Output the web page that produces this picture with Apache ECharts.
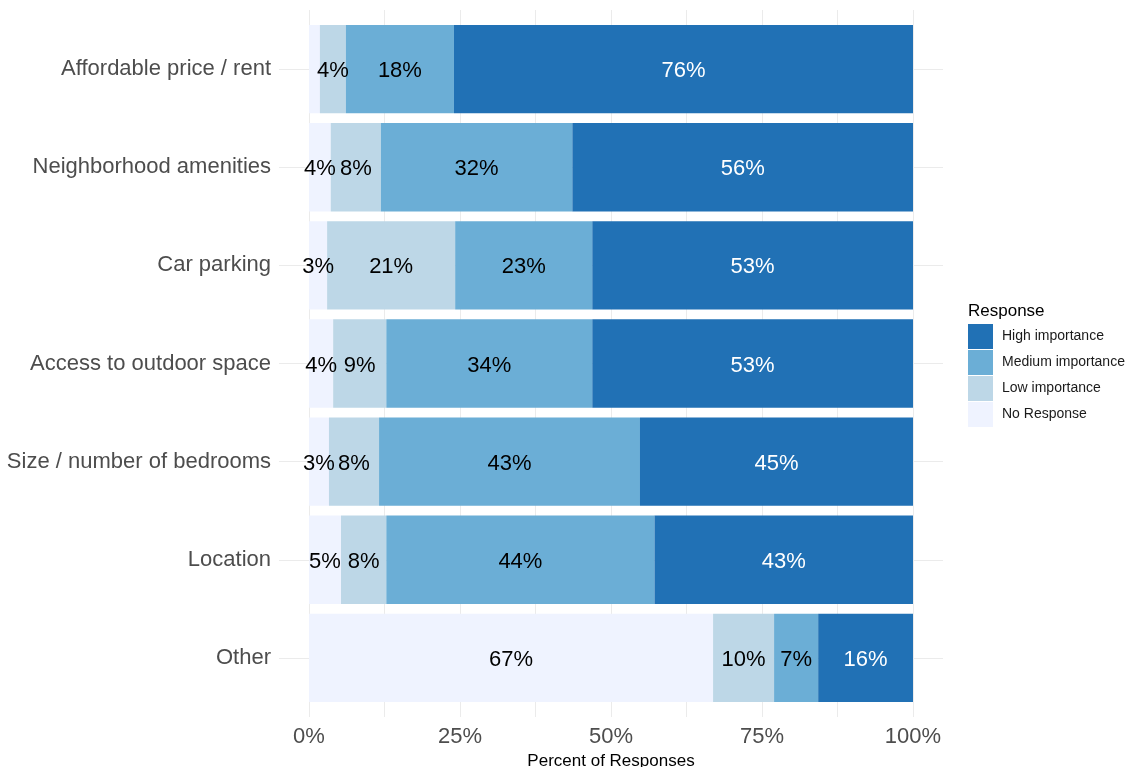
<!DOCTYPE html>
<html>
<head>
<meta charset="utf-8">
<script src="https://cdn.jsdelivr.net/npm/echarts@6/dist/echarts.min.js"></script>
<style>
  html, body { margin: 0; padding: 0; background: #fff; }
  #chart { width: 1129px; height: 767px; }
</style>
</head>
<body>
<div id="chart"></div>
<script>
// categories, top to bottom
const categories = ['Affordable price / rent', 'Neighborhood amenities', 'Car parking',
  'Access to outdoor space', 'Size / number of bedrooms', 'Location', 'Other']
// percent of responses per level
const noResponse = [1.8, 3.6, 3.0, 4.0, 3.3, 5.3, 66.9]
const lowImportance = [4.3, 8.3, 21.2, 8.8, 8.3, 7.5, 10.1]
const mediumImportance = [17.9, 31.7, 22.7, 34.1, 43.2, 44.4, 7.3]
const highImportance = [76.0, 56.4, 53.1, 53.1, 45.2, 42.8, 15.7]
const xTicks = [0, 25, 50, 75, 100]

const colors = {
  high: '#2171b5',
  medium: '#6baed6',
  low: '#bdd7e7',
  none: '#eff3ff'
}

let myEcharts = echarts.init(document.getElementById('chart'))

function barSeries(name, data, color, textColor) {
  return {
    name: name,
    type: 'bar',
    stack: 'total',
    xAxisIndex: 0,
    yAxisIndex: 0,
    barCategoryGap: '10%',
    z: 3,
    data: data,
    itemStyle: { color: color },
    label: {
      show: true,
      position: 'inside',
      offset: [0, 2],
      fontSize: 22,
      color: textColor,
      // tiny slices get no label
      formatter: p => p.value < 2.5 ? '' : Math.round(p.value) + '%'
    }
  }
}

let option = {
  animation: false,
  textStyle: { fontFamily: 'Liberation Sans, Arial, sans-serif' },
  grid: [
    // bars
    { left: 309, right: 216, top: 20, bottom: 60, outerBoundsMode: 'none' },
    // vertical grid lines over the whole panel
    { left: 309, right: 216, top: 10, bottom: 50, outerBoundsMode: 'none' },
    // horizontal grid lines at category centers
    { left: 279, right: 186, top: 69, bottom: 109, outerBoundsMode: 'none' }
  ],
  xAxis: [
    {
      gridIndex: 0,
      type: 'value',
      min: 0,
      max: 100,
      interval: 25,
      axisLine: { show: false },
      axisTick: { show: false },
      splitLine: { show: false },
      axisLabel: {
        fontSize: 22,
        color: '#4d4d4d',
        margin: 19,
        formatter: v => xTicks.includes(v) ? v + '%' : ''
      },
      name: 'Percent of Responses',
      nameLocation: 'middle',
      nameGap: 44,
      nameTextStyle: { fontSize: 17, color: '#000' }
    },
    {
      gridIndex: 1,
      type: 'value',
      min: 0,
      max: 100,
      interval: 12.5,
      axisLine: { show: false },
      axisTick: { show: false },
      axisLabel: { show: false },
      splitLine: { show: true, lineStyle: { color: '#ebebeb', width: 1 } }
    },
    {
      gridIndex: 2,
      type: 'value',
      min: 0,
      max: 1,
      show: false
    }
  ],
  yAxis: [
    {
      gridIndex: 0,
      type: 'category',
      data: categories,
      inverse: true,
      axisLine: { show: false },
      axisTick: { show: false },
      splitLine: { show: false },
      axisLabel: { fontSize: 22, color: '#4d4d4d', margin: 38, padding: [5, 0, 0, 0] }
    },
    {
      gridIndex: 1,
      type: 'value',
      show: false,
      splitLine: { show: false }
    },
    {
      gridIndex: 2,
      type: 'value',
      min: 0,
      max: 6,
      interval: 1,
      axisLine: { show: false },
      axisTick: { show: false },
      axisLabel: { show: false },
      splitLine: { show: true, lineStyle: { color: '#ebebeb', width: 1 } }
    }
  ],
  legend: {
    orient: 'vertical',
    left: 968,
    top: 324,
    padding: 0,
    itemWidth: 25,
    itemHeight: 25,
    itemGap: 1,
    icon: 'rect',
    data: ['High importance', 'Medium importance', 'Low importance', 'No Response'],
    textStyle: { fontSize: 14, color: '#1a1a1a', padding: [3, 0, 0, 4] }
  },
  graphic: [
    {
      type: 'text',
      left: 968,
      top: 303,
      style: { text: 'Response', fontSize: 17, fill: '#000', fontFamily: 'Liberation Sans, Arial, sans-serif' }
    }
  ],
  series: [
    barSeries('No Response', noResponse, colors.none, '#000'),
    barSeries('Low importance', lowImportance, colors.low, '#000'),
    barSeries('Medium importance', mediumImportance, colors.medium, '#000'),
    barSeries('High importance', highImportance, colors.high, '#fff')
  ]
}

option && myEcharts.setOption(option)
</script>
</body>
</html>
